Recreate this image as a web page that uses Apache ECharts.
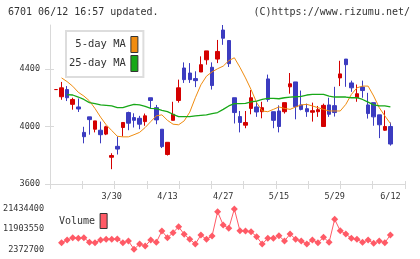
<!DOCTYPE html>
<html>
<head>
<meta charset="utf-8">
<script src="https://cdn.jsdelivr.net/npm/echarts@6/dist/echarts.min.js"></script>
</head>
<body style="margin:0;background:#fff">
<div id="container" style="width:420px;height:259px"></div>
<script>
// trading days shown on the chart
var dates = ['3/15','3/16','3/19','3/20','3/22','3/23','3/26','3/27','3/28','3/29',
    '3/30','4/2','4/3','4/4','4/5','4/6','4/9','4/10','4/11','4/12',
    '4/13','4/16','4/17','4/18','4/19','4/20','4/23','4/24','4/25','4/26',
    '4/27','4/30','5/1','5/2','5/7','5/8','5/9','5/10','5/11','5/14',
    '5/15','5/16','5/17','5/18','5/21','5/22','5/23','5/24','5/25','5/28',
    '5/29','5/30','5/31','6/1','6/4','6/5','6/6','6/7','6/8','6/11','6/12'];
var labelDates = ['3/30', '4/13', '4/27', '5/15', '5/29', '6/12'];

var opens  = [4257,4207,4257,4154,4136,3959,4067,3981,3974,3947,3786,3862,3993,4097,4062,4057,4034,4200,4131,3981,
              3805,4043,4181,4407,4372,4333,4379,4464,4412,4469,4671,4598,4200,4069,4009,4126,4136,4103,4331,4103,
              4108,4103,4276,4310,4150,4124,4099,4103,4000,4150,4145,4338,4469,4303,4200,4274,4150,4166,4081,3974,4000];
var closes = [4257,4269,4200,4188,4122,3929,4048,4039,3943,3998,3798,3843,4028,4023,4043,4016,4074,4181,4046,3860,
              3890,4085,4269,4326,4326,4319,4430,4526,4285,4522,4614,4437,4097,4028,4028,4200,4101,4131,4188,4043,
              4000,4166,4297,4138,4119,4103,4110,4117,4147,4085,4097,4366,4430,4269,4228,4250,4090,4067,4012,4000,3878];
var lows   = [4257,4186,4177,4117,4101,3883,3943,3959,3883,3940,3703,3805,3931,3974,3993,3981,4005,4126,4016,3850,
              3798,4043,4166,4303,4303,4274,4379,4430,4257,4441,4568,4414,4021,3959,3988,4085,4067,4057,4172,3988,
              3959,4090,4228,4050,4112,4067,4034,4067,4000,4067,4069,4281,4276,4241,4172,4200,4055,4005,3919,3970,3867];
var highs  = [4257,4310,4281,4200,4195,3998,4067,4039,4034,4005,3814,3931,4028,4103,4092,4074,4090,4200,4150,3981,
              3890,4172,4326,4446,4441,4384,4488,4526,4446,4602,4706,4598,4200,4108,4108,4253,4177,4172,4361,4103,
              4147,4166,4372,4310,4250,4159,4166,4143,4159,4200,4276,4457,4469,4319,4292,4319,4234,4166,4081,4112,4028];

var ma5  = [null,4338,4312,4280,4238,4212,4178,4125,4065,4012,3972,3932,3928,3928,3943,3959,3993,4034,4074,4081,
            4043,4016,4012,4039,4100,4200,4290,4350,4380,4402,4420,4458,4478,4412,4338,4257,4166,4108,4103,4119,
            4136,4126,4119,4136,4150,4154,4143,4131,4119,4108,4108,4108,4154,4223,4269,4281,4281,4212,4131,4074,4021];
var ma25 = [null,null,4222,4219,4205,4188,4166,4159,4150,4147,4143,4131,4131,4143,4154,4150,4140,4126,4124,4112,
            4103,4085,4069,4069,4069,4074,4078,4081,4090,4097,4119,4143,4159,4159,4161,4172,4177,4188,4195,4195,
            4193,4200,4205,4207,4209,4219,4223,4223,4223,4212,4205,4205,4205,4200,4200,4188,4170,4150,4143,4143,4136];
var volumes = [null,5490000,6770000,7850000,7570000,7850000,5680000,5490000,6770000,7100000,
               7100000,7240000,5490000,6290000,2372700,4880000,3930000,6770000,5680000,11020000,
               7850000,10220000,13050000,9460000,7100000,4880000,9130000,7100000,8660000,20140000,
               13850000,12300000,21434400,11160000,11020000,10690000,8330000,4880000,7570000,7570000,
               8800000,6290000,9600000,7100000,6290000,4880000,6770000,5490000,8040000,5680000,
               16550000,11160000,9600000,7570000,7100000,5680000,6770000,5210000,6290000,5490000,9130000];

var priceTicks = [3600, 4000, 4400];
var volumeTicks = [2372700, 11903550, 21434400];

var mono = '"DejaVu Sans Mono", monospace';
var axisGrey = '#d9d9d9';
function plain(v) { return String(v); }

var candles = opens.map(function (o, i) {
    return [o, closes[i], lows[i], highs[i]];
});

var dom = document.getElementById('container');
var myChart = echarts.init(dom);
var option = {
    animation: false,
    backgroundColor: '#fff',
    graphic: [
        {type: 'text', left: 8, top: 7,
            style: {text: '6701 06/12 16:57 updated.', font: '10px ' + mono, fill: '#333'}},
        {type: 'text', right: 10, top: 7,
            style: {text: '(C)https://www.rizumu.net/', font: '10px ' + mono, fill: '#333'}}
    ],
    legend: [{
        data: ['5-day MA', '25-day MA'],
        orient: 'vertical',
        left: 66, top: 31,
        padding: [5, 5, 5, 3],
        itemGap: 2,
        itemWidth: 7, itemHeight: 16,
        align: 'right',
        icon: 'rect',
        backgroundColor: '#fff',
        borderColor: '#ddd', borderWidth: 2,
        itemStyle: {borderColor: '#333', borderWidth: 1},
        textStyle: {fontFamily: mono, fontSize: 10.5, color: '#333'},
        selectedMode: false
    }, {
        data: ['Volume'],
        left: 59, top: 213,
        padding: 0,
        itemWidth: 7, itemHeight: 15,
        align: 'right',
        icon: 'rect',
        itemStyle: {borderColor: '#333', borderWidth: 1},
        textStyle: {fontFamily: mono, fontSize: 10, color: '#333'},
        selectedMode: false
    }],
    grid: [
        {left: 50, top: 25, width: 355, height: 159},
        {left: 56, top: 25, width: 334.4, height: 159},
        {left: 56, top: 209, width: 334.4, height: 40.3}
    ],
    xAxis: [{
        gridIndex: 0, type: 'value', min: 0, max: 11, interval: 1, position: 'bottom',
        axisLine: {show: true, onZero: false, lineStyle: {color: axisGrey}},
        axisTick: {show: true, length: 5, lineStyle: {color: axisGrey}},
        axisLabel: {show: false}, splitLine: {show: false}
    }, {
        gridIndex: 0, type: 'value', min: 0, max: 11, interval: 1, position: 'bottom',
        axisLine: {show: false, onZero: false},
        axisTick: {show: true, inside: true, length: 3, lineStyle: {color: axisGrey}},
        axisLabel: {show: false}, splitLine: {show: false}
    }, {
        gridIndex: 1, type: 'category', data: dates, boundaryGap: false,
        axisLine: {show: false}, axisTick: {show: false}, splitLine: {show: false},
        axisLabel: {
            margin: 8, fontFamily: mono, fontSize: 8.5, color: '#333',
            interval: function (idx) { return labelDates.indexOf(dates[idx]) >= 0; }
        }
    }, {
        gridIndex: 2, type: 'category', data: dates, boundaryGap: false, show: false
    }],
    yAxis: [{
        gridIndex: 0, type: 'value', min: 3600, max: 4706, position: 'left',
        axisLine: {show: true, onZero: false, lineStyle: {color: axisGrey}},
        axisTick: {show: true, length: 5, customValues: priceTicks, lineStyle: {color: axisGrey}},
        axisLabel: {customValues: priceTicks, formatter: plain, margin: 10,
            fontFamily: mono, fontSize: 8.5, color: '#333'},
        splitLine: {show: false}
    }, {
        gridIndex: 0, type: 'value', min: 3600, max: 4706, position: 'left',
        axisLine: {show: false},
        axisTick: {show: true, inside: true, length: 4, customValues: priceTicks, lineStyle: {color: axisGrey}},
        axisLabel: {show: false}, splitLine: {show: false}
    }, {
        gridIndex: 1, type: 'value', min: 3600, max: 4706, show: false
    }, {
        gridIndex: 2, type: 'value', min: 2372700, max: 21434400,
        axisLine: {show: false}, axisTick: {show: false}, splitLine: {show: false},
        axisLabel: {customValues: volumeTicks, formatter: plain, margin: 12,
            fontFamily: mono, fontSize: 8.5, color: '#333'}
    }],
    series: [{
        type: 'candlestick',
        xAxisIndex: 2, yAxisIndex: 2,
        data: candles,
        barWidth: 4,
        itemStyle: {
            color: '#d40000', color0: '#3c3cc0',
            borderColor: '#d40000', borderColor0: '#3c3cc0', borderWidth: 1
        }
    }, {
        name: '5-day MA', type: 'line',
        xAxisIndex: 2, yAxisIndex: 2,
        data: ma5, symbol: 'none',
        color: '#f08c10',
        lineStyle: {width: 1, color: '#f08c10'}
    }, {
        name: '25-day MA', type: 'line',
        xAxisIndex: 2, yAxisIndex: 2,
        data: ma25, symbol: 'none',
        color: '#18a818',
        lineStyle: {width: 1.3, color: '#18a818'}
    }, {
        name: 'Volume', type: 'line',
        xAxisIndex: 3, yAxisIndex: 3,
        data: volumes, symbol: 'diamond', symbolSize: 7,
        showSymbol: true, showAllSymbol: true,
        color: '#ff5a66',
        lineStyle: {width: 1, color: '#ff5a66'}
    }]
};
myChart.setOption(option);
</script>
</body>
</html>
